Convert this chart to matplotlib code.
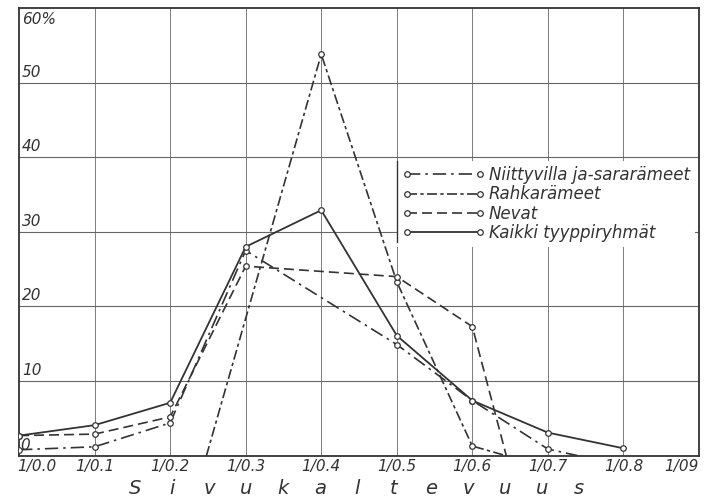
import numpy as np
import matplotlib
matplotlib.use('Agg')
import matplotlib.pyplot as plt
from matplotlib.lines import Line2D

# arvot luettu kuvasta (%)
x_labels = ['1/0.0', '1/0.1', '1/0.2', '1/0.3', '1/0.4', '1/0.5', '1/0.6', '1/0.7', '1/0.8', '1/09']
y_labels = ['0', '10', '20', '30', '40', '50', '60%']
y_ticks = [0, 10, 20, 30, 40, 50, 60]

niitty_x = [0, 1, 2, 3, 4, 5, 6, 7, 7.4]
niitty_y = [0.8, 1.2, 4.4, 27.5, 21.2, 14.9, 7.4, 0.9, 0]

rahka_x = [2.48, 4, 5, 6, 6.45]
rahka_y = [0, 53.8, 23.3, 1.3, 0]

nevat_x = [0, 1, 2, 3, 4, 5, 6, 6.45]
nevat_y = [2.7, 2.9, 5.2, 25.4, 24.7, 24.0, 17.3, 0]

kaikki_x = [0, 1, 2, 3, 4, 5, 6, 7, 8]
kaikki_y = [2.7, 4.1, 7.1, 28.0, 32.9, 16.1, 7.4, 3.1, 1.0]

sarjat = ['Niittyvilla ja-sararämeet', 'Rahkarämeet', 'Nevat', 'Kaikki tyyppiryhmät']

ink = '#333333'
fig = plt.figure(figsize=(7.06, 4.97), dpi=100)
ax = fig.add_axes([0.027, 0.083, 0.963, 0.901])
ax.set_xlim(0, 9)
ax.set_ylim(0, 60)

# ruudukko
for v in range(1, 9):
    ax.axvline(v, color='#666666', lw=0.6, zorder=1)
for v in y_ticks[1:-1]:
    ax.axhline(v, color='#666666', lw=0.8, zorder=1)
for s in ax.spines.values():
    s.set_color(ink)
    s.set_linewidth(1.3)
ax.set_xticks([])
ax.set_yticks([])

mk = dict(marker='o', markersize=4, markerfacecolor='white', markeredgecolor=ink, markeredgewidth=0.9)
ax.plot(niitty_x, niitty_y, color=ink, lw=1.2, ls=(0, (8, 3, 1.5, 3)), markevery=[0, 1, 2, 3, 5, 6, 7], zorder=3, **mk)
ax.plot(rahka_x, rahka_y, color=ink, lw=1.2, ls=(0, (6, 2, 2, 2)), markevery=[1, 2, 3], zorder=3, **mk)
ax.plot(nevat_x, nevat_y, color=ink, lw=1.2, ls=(0, (6, 3)), markevery=[0, 1, 2, 3, 5, 6], zorder=3, **mk)
ax.plot(kaikki_x, kaikki_y, color=ink, lw=1.3, ls='-', zorder=3, **mk)

# y-akselin tekstit akselin sisällä
for v, t in zip(y_ticks, y_labels):
    if v == 60:
        ax.text(0.04, v - 0.6, t, ha='left', va='top', fontsize=11, style='italic', color=ink)
    else:
        ax.text(0.02 if v == 0 else 0.04, v + 0.4, t, ha='left', va='bottom', fontsize=11, style='italic', color=ink)

# x-akselin tekstit
for i, t in enumerate(x_labels):
    if i == 0:
        ax.text(-0.02, -0.4, t, ha='left', va='top', fontsize=11, style='italic', color=ink)
    elif i == 9:
        ax.text(9.0, -0.4, t, ha='right', va='top', fontsize=11, style='italic', color=ink)
    else:
        ax.text(i, -0.4, t, ha='center', va='top', fontsize=11, style='italic', color=ink)

word = 'Sivukaltevuus'
for i, ch in enumerate(word):
    fig.text((135 + i * 37) / 706, 1 - 488 / 497, ch, ha='center', va='center', fontsize=14, style='italic', color=ink)

handles = [
    Line2D([], [], color=ink, lw=1.2, ls=(0, (8, 3, 1.5, 3)), markevery=[0, -1], **mk),
    Line2D([], [], color=ink, lw=1.2, ls=(0, (6, 2, 2, 2)), markevery=[0, -1], **mk),
    Line2D([], [], color=ink, lw=1.2, ls=(0, (6, 3)), markevery=[0, -1], **mk),
    Line2D([], [], color=ink, lw=1.3, ls='-', markevery=[0, -1], **mk),
]
leg = ax.legend(handles, sarjat, loc='upper left', bbox_to_anchor=(0.556, 0.658), frameon=True,
                fancybox=False, handlelength=5.0, handletextpad=0.2, labelspacing=0.08,
                borderaxespad=0, borderpad=0.3, prop={'size': 12, 'style': 'italic'}, numpoints=2)
leg.get_frame().set_edgecolor('none')
leg.get_frame().set_facecolor('white')
leg.get_frame().set_alpha(1)
leg.set_zorder(5)
for t in leg.get_texts():
    t.set_color(ink)
ax.plot([0.556, 0.556], [0.478, 0.658], transform=ax.transAxes, color=ink, lw=1.0, zorder=6)

fig.savefig('out.png', dpi=100)
